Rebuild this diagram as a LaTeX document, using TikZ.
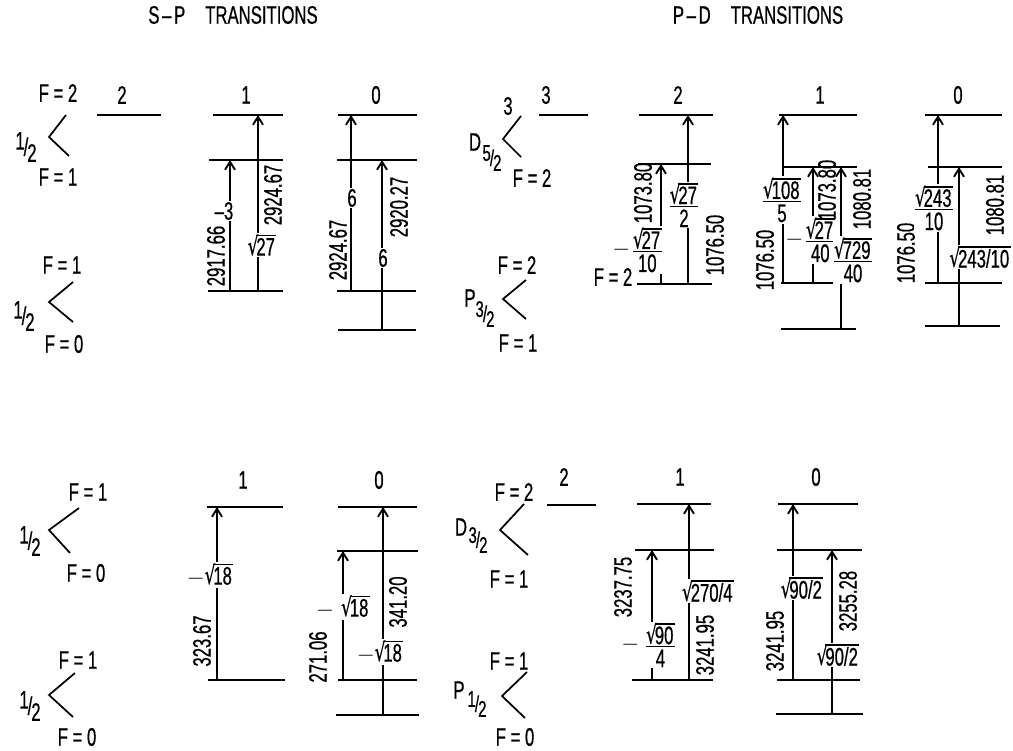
\documentclass[tikz,border=0pt]{standalone}
\usepackage{fontspec}
\setmainfont[FakeStretch=0.66,FakeBold=0.6]{Liberation Sans}
\newfontfamily\symf[FakeStretch=0.66,FakeBold=0.6]{DejaVu Sans}
\usetikzlibrary{arrows.meta}
\newcommand\lbl{\fontsize{19}{21}\selectfont}
\newcommand\hfr[2]{\raisebox{0.24em}{#1}\kern-0.04em/\kern-0.04em\raisebox{-0.24em}{#2}}
\newcommand\hfs[2]{{\fontsize{17}{19}\selectfont\raisebox{0.22em}{#1}\kern-0.04em/\kern-0.04em\raisebox{-0.22em}{#2}}}
\newcommand\sq[1]{\mbox{\raisebox{0.5pt}{\symf √}\kern-0.08em\setbox0\hbox{#1\kern1pt}\vbox{\hrule height 1pt\kern1.2pt\box0}}}
\newcommand\nsq[1]{$-$\sq{#1}}
\newcommand\fq[2]{$\vcenter{\halign{\hfil##\hfil\cr\sq{#1}\cr\noalign{\kern1.2pt\hrule height 1pt\kern1.8pt}#2\cr}}$}
\newcommand\nfq[2]{$-$\kern2pt\fq{#1}{#2}}
\tikzset{
  lvl/.style={line width=1.5pt},
  arr/.style={line width=1.4pt,-{Straight Barb[length=6pt,width=7.5pt,line width=1.4pt]}},
  lab/.style={font=\lbl,inner sep=0.5pt},
  inl/.style={lab,fill=white,inner sep=1pt},
  rot/.style={lab,rotate=90},
  chev/.style={line width=1.3pt}
}
\begin{document}
\begin{tikzpicture}[x=0.75pt,y=-0.75pt]
\useasboundingbox (0,0) rectangle (1013,750);
% titles
\node[lab] (t1) at (233,15) {S\kern2pt--\kern2pt P\hspace{15pt}TRANSITIONS};
\node[lab] (t2) at (758,15) {P\kern2pt--\kern2pt D\hspace{15pt}TRANSITIONS};
% level lines
\foreach \a/\b/\y in {97/161/115, 213/283/115, 209/283/160, 208/283/291,
  338/417/115, 337/417/160, 337/416/291, 338/416/330,
  539/588/115, 639/713/115, 638/711/164, 637/712/284,
  779/857/115, 782/857/167, 781/857/283, 781/856/329,
  925/1002/115, 928/1002/167, 925/1002/283, 925/1000/326,
  207/283/507, 208/285/680, 338/417/507, 337/418/551, 338/417/680, 336/419/715,
  547/596/505, 637/711/504, 635/714/550, 632/713/680,
  778/858/504, 777/862/550, 777/860/680, 776/863/714}
  \draw[lvl] (\a,\y) -- (\b,\y);
% arrows
\foreach \n/\x/\ya/\yb in {1/230/291/160, 2/258/291/115, 3/351/291/115, 4/382/330/160,
  5/661/284/164, 6/688/284/115, 7/783/283/115, 8/813/283/167, 9/841/329/167,
  10/938/283/115, 11/959/326/167,
  12/217/680/507, 13/343/680/551, 14/383/715/507,
  15/652/680/550, 16/689/680/504, 17/793/680/504, 18/832/714/550}
{
  \coordinate (lo\n) at (\x,\ya);
  \coordinate (hi\n) at (\x,\yb);
  \draw[arr] (lo\n) -- (hi\n);
}
% chevrons
\draw[chev] (66,115) -- (49,137) -- (69,156);
\draw[chev] (73,282) -- (49,302) -- (73,322);
\draw[chev] (521,116) -- (503,139) -- (521,157);
\draw[chev] (526,280) -- (503,299) -- (526,319);
\draw[chev] (79,508) -- (49,530) -- (70,553);
\draw[chev] (75,673) -- (49,695) -- (73,717);
\draw[chev] (524,504) -- (500,530) -- (528,555);
\draw[chev] (527,672) -- (502,696) -- (525,718);
% term labels
\node[lab] (a1) at (58,93) {F = 2};
\node[lab] (a2) at (26,147) {\hfr{1}{2}};
\node[lab] (a3) at (58,177) {F = 1};
\node[lab] (a4) at (62,265) {F = 1};
\node[lab] (a5) at (24,316) {\hfr{1}{2}};
\node[lab] (a6) at (64,344) {F = 0};
\node[lab] (b1) at (508,106) {3};
\node[lab] (b2) at (475,142) {D};
\node[lab] (b3) at (492,158) {\hfs{5}{2}};
\node[lab] (b4) at (532,178) {F = 2};
\node[lab] (b5) at (517,265) {F = 2};
\node[lab] (b6) at (470,298) {P};
\node[lab] (b7) at (485,314) {\hfs{3}{2}};
\node[lab] (b8) at (518,343) {F = 1};
\node[lab] (c1) at (88,492) {F = 1};
\node[lab] (c2) at (30,541) {\hfr{1}{2}};
\node[lab] (c3) at (86,573) {F = 0};
\node[lab] (c4) at (78,660) {F = 1};
\node[lab] (c5) at (30,706) {\hfr{1}{2}};
\node[lab] (c6) at (77,737) {F = 0};
\node[lab] (d1) at (514,492) {F = 2};
\node[lab] (d2) at (461,527) {D};
\node[lab] (d3) at (478,540) {\hfs{3}{2}};
\node[lab] (d4) at (509,579) {F = 1};
\node[lab] (d5) at (509,661) {F = 1};
\node[lab] (d6) at (459,690) {P};
\node[lab] (d7) at (477,704) {\hfs{1}{2}};
\node[lab] (d8) at (515,737) {F = 0};
% level numbers
\node[lab] (n1) at (122,95) {2};
\node[lab] (n2) at (246,95) {1};
\node[lab] (n3) at (376,95) {0};
\node[lab] (n4) at (546,95) {3};
\node[lab] (n5) at (678,95) {2};
\node[lab] (n6) at (820,95) {1};
\node[lab] (n7) at (958,95) {0};
\node[lab] (n8) at (243,480) {1};
\node[lab] (n9) at (379,480) {0};
\node[lab] (n10) at (564,477) {2};
\node[lab] (n11) at (680,477) {1};
\node[lab] (n12) at (816,477) {0};
% S-P top
\node[rot] (e1) at (216,256) {2917.66};
\node[inl] (e2) at (224,211) {--3};
\node[rot] (e3) at (273,195) {2924.67};
\node[inl] (e4) at (262,245) {\sq{27}};
\node[rot] (e5) at (338,250) {2924.67};
\node[inl] (e6) at (352,198) {6};
\node[rot] (e7) at (399,207) {2920.27};
\node[inl] (e8) at (383,258) {6};
% P-D top
\node[rot] (g1) at (643,193) {1073.80};
\node[inl] (g2) at (637,250) {\nfq{27}{10}};
\node[inl] (g3) at (684,205) {\fq{27}{2}};
\node[rot] (g4) at (715,245) {1076.50};
\node[lab] (g5) at (613,277) {F = 2};
\node[rot] (g6) at (765,260) {1076.50};
\node[inl] (g9) at (810,240) {\nfq{27}{40}};
\node[inl] (g7) at (782,200) {\fq{108}{5}};
\node[rot] (g8) at (827,190) {1073.80};
\node[rot] (g10) at (862,199) {1080.81};
\node[inl] (g11) at (853,260) {\fq{729}{40}};
\node[rot] (g12) at (906,253) {1076.50};
\node[inl] (g13) at (934,208) {\fq{243}{10}};
\node[rot] (g14) at (995,205) {1080.81};
\node[inl] (g15) at (980,257) {\sq{243/10}};
% S-P bottom
\node[inl] (h1) at (210,575) {\nsq{18}};
\node[rot] (h2) at (202,641) {323.67};
\node[rot] (h3) at (398,602) {341.20};
\node[inl] (h4) at (380,652) {\nsq{18}};
\node[inl] (h5) at (343,607) {$-$\;\sq{18}};
\node[rot] (h6) at (318,657) {271.06};
% P-D bottom
\node[rot] (k1) at (623,587) {3237.75};
\node[inl] (k2) at (648,645) {$-$\;\fq{90}{4}};
\node[inl] (k3) at (708,591) {\sq{270/4}};
\node[rot] (k4) at (705,645) {3241.95};
\node[rot] (k5) at (775,641) {3241.95};
\node[inl] (k6) at (802,588) {\sq{90/2}};
\node[rot] (k7) at (848,601) {3255.28};
\node[inl] (k8) at (838,655) {\sq{90/2}};
\end{tikzpicture}
\end{document}
